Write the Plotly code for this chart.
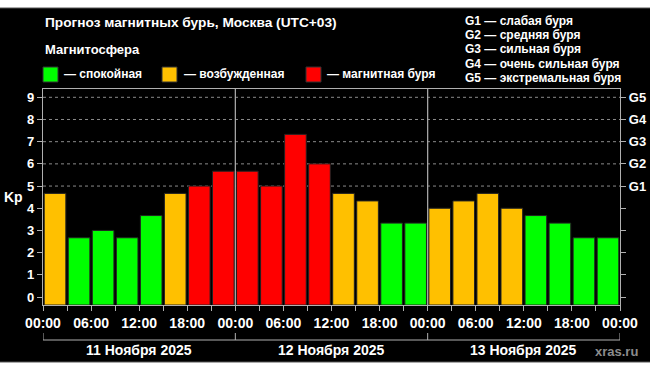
import plotly.graph_objects as go

# ---- data ----
kp = [4.67, 2.67, 3.0, 2.67, 3.67, 4.67, 5.0, 5.67,
      5.67, 5.0, 7.33, 6.0, 4.67, 4.33, 3.33, 3.33,
      4.0, 4.33, 4.67, 4.0, 3.67, 3.33, 2.67, 2.67]
hour_labels = ["00:00", "", "06:00", "", "12:00", "", "18:00", ""]
day_labels = ["11 Ноября 2025", "12 Ноября 2025", "13 Ноября 2025"]
g_tick_labels = ["", "", "", "", "", "G1", "G2", "G3", "G4", "G5"]
g_legend = ["G1 — слабая буря", "G2 — средняя буря", "G3 — сильная буря",
            "G4 — очень сильная буря", "G5 — экстремальная буря"]
state_labels = ["— спокойная", "— возбужденная", "— магнитная буря"]
state_colors = ["#00ff00", "#ffc000", "#ff0000"]
grid_levels = [5, 6, 7, 8, 9]

# ---- geometry (pixels) ----
W, H = 650, 371
L, R, T, B = 43, 30, 89, 66
PW, PH = W - L - R, H - T - B
YMIN, YMAX = -0.36, 9.374
FONT = "Liberation Sans, Arial, sans-serif"


def px(x):
    return (x - L) / PW


def py(y):
    return (H - B - y) / PH


def color_for(v):
    if v >= 5:
        return state_colors[2]
    if v >= 4:
        return state_colors[1]
    return state_colors[0]


n = len(kp)
xs = [i + 0.5 for i in range(n)]
colors = [color_for(v) for v in kp]

fig = go.Figure()
fig.add_trace(go.Bar(
    x=xs, y=[v - YMIN for v in kp], base=YMIN, width=0.9,
    marker=dict(color=colors, line=dict(color="#222222", width=1)),
    hoverinfo="skip", showlegend=False,
))
# invisible trace to activate y2
fig.add_trace(go.Scatter(x=[0], y=[0], yaxis="y2", mode="markers",
                         marker=dict(opacity=0), hoverinfo="skip", showlegend=False))

tickvals_x = list(range(n + 1))
ticktext_x = [hour_labels[i % 8] if i < n else "00:00" for i in tickvals_x]

shapes = []
# background panel
shapes.append(dict(type="rect", xref="paper", yref="paper",
                   x0=px(-1), x1=px(W + 1), y0=py(362), y1=py(8),
                   fillcolor="#000000", line=dict(color="#555555", width=1), layer="below"))
# grid
for g in grid_levels:
    shapes.append(dict(type="line", xref="paper", yref="y", x0=0, x1=1, y0=g, y1=g,
                       line=dict(color="#8a8a8a", width=1, dash="dot"), layer="below"))
# day separators
for d in range(1, len(day_labels)):
    shapes.append(dict(type="line", xref="x", yref="paper", x0=d * 8, x1=d * 8, y0=0, y1=1,
                       line=dict(color="#b0b0b0", width=1.2), layer="above"))
# day brackets
shapes.append(dict(type="line", xref="x", yref="paper", x0=0, x1=24, y0=py(340), y1=py(340),
                   line=dict(color="#b0b0b0", width=1)))
for d in range(len(day_labels) + 1):
    shapes.append(dict(type="line", xref="x", yref="paper", x0=d * 8, x1=d * 8,
                       y0=py(340), y1=py(333), line=dict(color="#b0b0b0", width=1)))
# legend squares
sq_x = [43, 162, 306]
for xx, c in zip(sq_x, state_colors):
    shapes.append(dict(type="rect", xref="paper", yref="paper",
                       x0=px(xx), x1=px(xx + 15), y0=py(82), y1=py(67),
                       fillcolor=c, line=dict(color="#333333", width=1)))

ann = []


def text(x, y, s, size=14, color="#ffffff", xanchor="left", bold=True, xref="paper"):
    ann.append(dict(x=x if xref != "paper" else px(x), y=py(y), xref=xref, yref="paper",
                    text=f"<b>{s}</b>" if bold else s, showarrow=False,
                    xanchor=xanchor, yanchor="middle",
                    font=dict(family=FONT, size=size, color=color)))


text(43, 22, "Прогноз магнитных бурь, Москва (UTC+03)", 13.7)
text(43, 50, "Магнитосфера", 13)
for xx, s in zip([62, 182, 325], state_labels):
    text(xx, 74, s, 12)
for i, s in enumerate(g_legend):
    text(463, 21 + i * 14.2, s, 12)
text(13, 197, "Kp", 14, xanchor="center")
for d, s in enumerate(day_labels):
    text(d * 8 + 4, 350, s, 14, xanchor="center", xref="x")
text(640, 351, "xras.ru", 13, color="#8c8c8c", xanchor="right")

axis_common = dict(showline=True, linecolor="#b0b0b0", linewidth=1.2,
                   ticks="outside", ticklen=5, tickcolor="#b0b0b0",
                   tickfont=dict(family=FONT, size=14, color="#ffffff", weight="bold"),
                   showgrid=False, zeroline=False, fixedrange=True, automargin=False)

fig.update_layout(
    template="none",
    width=W, height=H,
    margin=dict(l=L, r=R, t=T, b=B, pad=0, autoexpand=False),
    paper_bgcolor="#ffffff", plot_bgcolor="#000000",
    bargap=0, showlegend=False,
    xaxis=dict(range=[0, n], tickmode="array", tickvals=tickvals_x, ticktext=ticktext_x,
               mirror=True, **axis_common),
    yaxis=dict(range=[YMIN, YMAX], tickmode="array", tickvals=list(range(10)),
               ticktext=[str(i) for i in range(10)], mirror=False, **axis_common),
    yaxis2=dict(range=[YMIN, YMAX], overlaying="y", side="right", tickmode="array",
                tickvals=list(range(10)), ticktext=g_tick_labels, **axis_common),
    shapes=shapes, annotations=ann,
)
fig.update_yaxes(tickfont=dict(size=13))

fig.write_html(
    "out.html",
    config={"displayModeBar": False, "staticPlot": True},
    post_script="document.body.style.margin='0';document.body.style.overflow='hidden';",
)
